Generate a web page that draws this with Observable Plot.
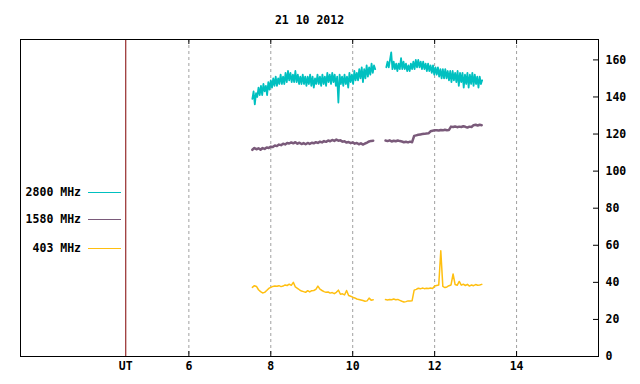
<!DOCTYPE html>
<html><head><meta charset="utf-8">
<script src="https://cdn.jsdelivr.net/npm/d3@7"></script>
<script src="https://cdn.jsdelivr.net/npm/@observablehq/plot@0.6"></script>
<style>
body{margin:0;background:#fff;}
#wrap{position:relative;width:640px;height:384px;}
.lg{position:absolute;left:0;width:81px;text-align:right;font:bold 11.5px "DejaVu Sans Mono",monospace;color:#000;line-height:16px;}
.ln{position:absolute;left:88px;width:33px;height:0;border-top:1px solid;}
</style></head>
<body><div id="wrap"></div>
<script>
const title = "21 10 2012";
const seriesNames = ["2800 MHz", "1580 MHz", "403 MHz"];
const seriesColors = ["#00c0c0", "#7a5a7a", "#ffbf10"];
const xTicks = [6, 8, 10, 12, 14];
const yTicks = [0, 20, 40, 60, 80, 100, 120, 140, 160];
const utPos = 4.46;

// 2800 MHz: segment start times, sampling step (hours), values
const s2800a_start = 7.55, s2800a_step = 0.03;
const s2800a = [139,143,136,142,140,145,141,146,141,147,143,146,141,148,144,149,145,150,146,151,
146,150,147,152,147,151,147,153,148,154,149,153,148,152,148,154,148,152,147,151,
147,152,147,151,146,151,147,152,146,151,145,150,147,152,147,151,146,152,147,151,
146,153,148,152,147,153,148,152,146,151,137,152,147,151,146,152,147,151,145,153,
148,152,147,154,149,153,149,155,150,156,148,155,150,157,151,156,152,158,153,157,155];
const s2800b_start = 10.82, s2800b_step = 0.03;
const s2800b = [156,159,156,160,164,155,159,155,158,154,158,155,161,155,159,155,158,154,157,154,
158,155,159,155,160,156,160,156,159,155,159,155,158,154,158,154,157,153,157,152,
156,152,156,151,155,150,155,150,155,150,154,149,154,148,154,149,153,148,154,146,
153,148,153,145,152,147,153,145,152,147,153,146,152,147,151,145,151,147,149];

// 1580 MHz
const s1580a_start = 7.55, s1580a_step = 0.05;
const s1580a = [111.5,112.5,111.8,112.3,111.6,112.4,112.0,112.8,112.5,113.2,113.0,113.8,113.5,114.3,114.0,114.8,114.4,115.2,114.9,115.5,
115.0,115.6,114.8,115.3,114.6,115.1,114.5,115.2,114.7,115.3,115.0,115.6,115.2,115.9,115.5,116.2,115.8,116.5,116.1,116.8,
116.3,117.0,116.4,116.6,115.9,116.1,115.4,115.7,115.1,115.5,114.8,115.2,114.5,115.0,114.3,114.9,115.4,116.0,116.3,116.4];
const s1580b_start = 10.8, s1580b_step = 0.05;
const s1580b = [116.5,116.2,116.6,116.0,116.4,116.1,116.5,116.2,116.0,115.6,115.8,115.5,115.9,115.6,
119.0,119.3,119.6,119.8,120.0,120.1,120.3,120.4,121.5,121.8,122.0,122.1,121.9,122.2,122.0,122.3,122.1,122.2,
124.0,123.8,124.1,123.7,124.0,123.8,124.2,123.9,123.5,124.0,123.8,124.8,125.0,124.6,125.0,124.8];

// 403 MHz
const s403a_start = 7.55, s403a_step = 0.05;
const s403a = [37.3,38.2,37.8,36.0,35.0,34.3,34.6,35.6,36.7,37.3,37.8,38.0,37.9,38.2,37.7,38.0,38.6,38.3,39.0,38.4,
40.0,37.5,36.8,36.0,35.3,35.0,34.6,35.5,34.8,35.5,35.6,36.2,38.0,36.3,35.6,35.0,34.6,34.8,34.2,34.5,
33.9,34.6,35.8,33.6,33.8,33.2,35.6,32.9,32.5,32.0,31.6,31.0,30.8,30.5,30.2,29.8,30.0,31.5,30.4,30.6];
const s403b_start = 10.8, s403b_step = 0.05;
const s403b = [30.7,30.5,30.8,30.6,31.0,30.6,30.8,30.3,29.8,29.4,29.6,30.0,29.9,30.1,
35.8,36.2,36.8,36.5,36.9,36.6,36.8,36.7,36.9,36.7,
38.0,38.3,38.6,57.0,37.8,37.2,37.5,38.2,38.6,44.5,38.8,38.4,40.5,38.5,39.0,38.3,38.9,38.0,38.6,38.2,38.8,38.4,38.6,38.9];

function seg(start, step, vals, series, part) {
  return vals.map((v, i) => ({t: start + i * step, v, series, part}));
}
const rows2800 = [...seg(s2800a_start, s2800a_step, s2800a, 0, "a"), ...seg(s2800b_start, s2800b_step, s2800b, 0, "b")];
const rows1580 = [...seg(s1580a_start, s1580a_step, s1580a, 1, "a"), ...seg(s1580b_start, s1580b_step, s1580b, 1, "b")];
const rows403 = [...seg(s403a_start, s403a_step, s403a, 2, "a"), ...seg(s403b_start, s403b_step, s403b, 2, "b")];

const W = 640, H = 384, mL = 20, mR = 42, mT = 39, mB = 28;
const fH = H - mT - mB, fW = W - mL - mR;

const chart = Plot.plot({
  width: W, height: H,
  marginLeft: mL, marginRight: mR, marginTop: mT, marginBottom: mB,
  style: {fontFamily: '"DejaVu Sans Mono", monospace', fontSize: "11.5px", fontWeight: "bold", color: "#000", background: "#fff"},
  x: {domain: [1.89, 16]},
  y: {domain: [0, 171]},
  marks: [
    Plot.ruleX(xTicks, {stroke: "#a0a0a0", strokeDasharray: "3,3"}),
    Plot.ruleX([utPos], {stroke: "#800000"}),
    Plot.tickX(xTicks, {insetTop: fH - 5, stroke: "#000"}),
    Plot.tickX(xTicks, {insetBottom: fH - 5, stroke: "#000"}),
    Plot.tickY(yTicks, {insetLeft: fW - 5, stroke: "#000"}),
    Plot.line(rows403, {x: "t", y: "v", z: "part", stroke: seriesColors[2], strokeWidth: 1.5}),
    Plot.line(rows1580, {x: "t", y: "v", z: "part", stroke: seriesColors[1], strokeWidth: 2.5}),
    Plot.line(rows2800, {x: "t", y: "v", z: "part", stroke: seriesColors[0], strokeWidth: 1.8}),
    Plot.frame({stroke: "#000"}),
    Plot.axisX([utPos, ...xTicks], {tickSize: 0, tickPadding: 5, label: null, tickFormat: d => d === utPos ? "UT" : String(d)}),
    Plot.axisY(yTicks, {anchor: "right", tickSize: 0, tickPadding: 7, label: null}),
    Plot.text([title], {frameAnchor: "top", dy: -24})
  ]
});
const wrap = document.getElementById("wrap");
wrap.appendChild(chart);
const legendY = [192, 219, 248];
seriesNames.forEach((name, i) => {
  const t = document.createElement("div");
  t.className = "lg"; t.textContent = name; t.style.top = (legendY[i] - 8) + "px";
  wrap.appendChild(t);
  const l = document.createElement("div");
  l.className = "ln"; l.style.borderTopColor = seriesColors[i]; l.style.top = legendY[i] + "px";
  wrap.appendChild(l);
});
</script></body></html>
